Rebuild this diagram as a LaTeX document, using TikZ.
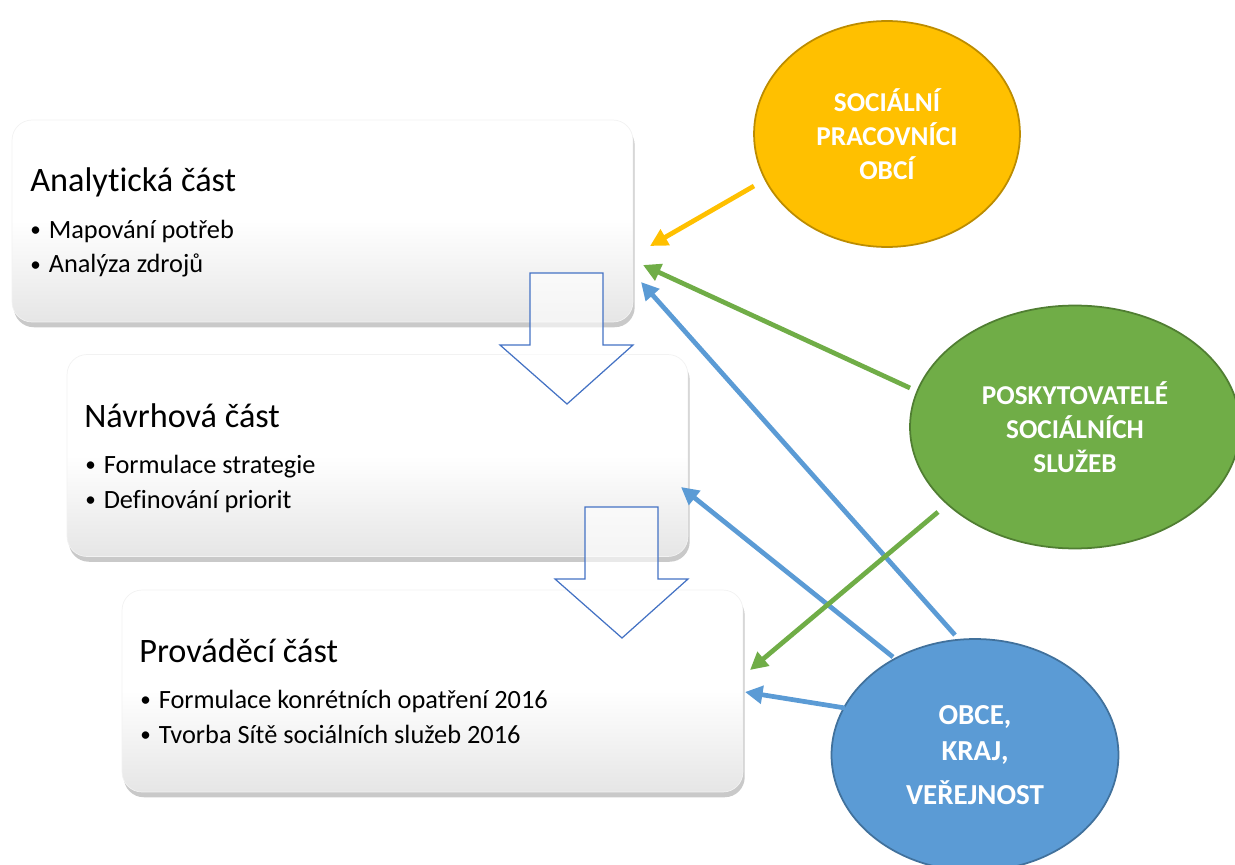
\documentclass[tikz,border=0pt]{standalone}
\usepackage{fontspec}
\setmainfont{Carlito}[RawFeature={-liga;-clig;-calt;-rlig;-ccmp}]
\usetikzlibrary{shapes.geometric,arrows.meta,shadows}

\definecolor{yelfill}{HTML}{FFC000}
\definecolor{yelline}{HTML}{BC8C00}
\definecolor{grnfill}{HTML}{70AD47}
\definecolor{grnline}{HTML}{507E32}
\definecolor{blufill}{HTML}{5B9BD5}
\definecolor{bluline}{HTML}{41719C}
\definecolor{flowline}{HTML}{4472C4}

\newcommand{\itemdot}{\raisebox{0.6pt}{\fontsize{12}{12}\selectfont\textbullet}\hspace{4.5pt}}

\tikzset{
  stage/.style={rectangle, rounded corners=0.4cm, minimum width=12.42cm, minimum height=4.04cm,
    draw=gray!10, top color=white, bottom color=gray!20, middle color=white,
    drop shadow={shadow xshift=1pt, shadow yshift=-3pt, opacity=0.3, fill=black!70}},
  stagetitle/.style={anchor=base west, inner sep=0pt, font=\fontsize{19.5}{22}\selectfont},
  stageitem/.style={anchor=base west, inner sep=0pt, font=\fontsize{15}{18}\selectfont},
  actor/.style={ellipse, inner sep=0pt, line width=1pt, text=white, align=center,
    font=\bfseries\fontsize{15.5}{19.5}\selectfont},
  flowarrow/.style={draw=flowline, line width=0.7pt, fill=white, fill opacity=0.6},
  link/.style={line width=2.7pt, -{Triangle[length=10pt, width=10pt]}}
}

\begin{document}
\begin{tikzpicture}[x=0.02cm, y=-0.02cm]
        \useasboundingbox (0, 0) rectangle (1235, 865);

        % stages
        \node[stage] (ana) at (322.5, 221) {};
        \node[stage] (nav) at (377.5, 455.5) {};
        \node[stage] (pro) at (432.5, 691) {};

        \node[stagetitle] (anaT) at (30, 192) {Analytická část};
        \node[stageitem] (anaA) at (30, 238) {\itemdot Mapování potřeb};
        \node[stageitem] (anaB) at (30, 273) {\itemdot Analýza zdrojů};

        \node[stagetitle] (navT) at (84, 427) {Návrhová část};
        \node[stageitem] (navA) at (85, 473) {\itemdot Formulace strategie};
        \node[stageitem] (navB) at (85, 508) {\itemdot Definování priorit};

        \node[stagetitle] (proT) at (139, 662) {Prováděcí část};
        \node[stageitem] (proA) at (140, 708) {\itemdot Formulace konrétních opatření 2016};
        \node[stageitem] (proB) at (140, 743) {\itemdot Tvorba Sítě sociálních služeb 2016};

        % block arrows between stages
        \draw[flowarrow] (530, 273) -- (603, 273) -- (603, 345) -- (633, 345) -- (567, 404) -- (500, 345) -- (530, 345) -- cycle;
        \draw[flowarrow, shift={(55, 234)}] (530, 273) -- (603, 273) -- (603, 345) -- (633, 345) -- (567, 404) -- (500, 345) -- (530, 345) -- cycle;

        % actors
        \node[actor, fill=yelfill, draw=yelline, minimum width=5.32cm, minimum height=4.52cm] (yel) at (887, 134)
            {SOCIÁLNÍ\\PRACOVNÍCI\\OBCÍ};
        \node[actor, fill=grnfill, draw=grnline, minimum width=6.6cm, minimum height=4.86cm] (grn) at (1075, 427)
            {POSKYTOVATELÉ\\SOCIÁLNÍCH\\SLUŽEB};
        \node[actor, fill=blufill, draw=bluline, minimum width=5.74cm, minimum height=4.64cm,
            font=\bfseries\fontsize{16.5}{21}\selectfont] (blu) at (975, 755)
            {OBCE,\\KRAJ,\\[4pt]VEŘEJNOST};

        \coordinate (yelOut) at (754, 186);
        \coordinate (grnOut1) at (910, 388);
        \coordinate (grnOut2) at (938, 512);
        \coordinate (bluOut1) at (955, 635);
        \coordinate (bluOut2) at (893, 657);
        \coordinate (bluOut3) at (845, 708);

        \coordinate (anaIn1) at (650, 246);
        \coordinate (anaIn2) at (643, 265);
        \coordinate (anaIn3) at (641, 282);
        \coordinate (navIn) at (681, 487);
        \coordinate (proIn1) at (750, 670);
        \coordinate (proIn2) at (745, 692);

        \draw[link, blufill] (bluOut1) -- (anaIn3);
        \draw[link, blufill] (bluOut2) -- (navIn);
        \draw[link, blufill] (bluOut3) -- (proIn2);
        \draw[link, grnfill] (grnOut1) -- (anaIn2);
        \draw[link, grnfill] (grnOut2) -- (proIn1);
        \draw[link, yelfill] (yelOut) -- (anaIn1);
    \end{tikzpicture}
\end{document}
